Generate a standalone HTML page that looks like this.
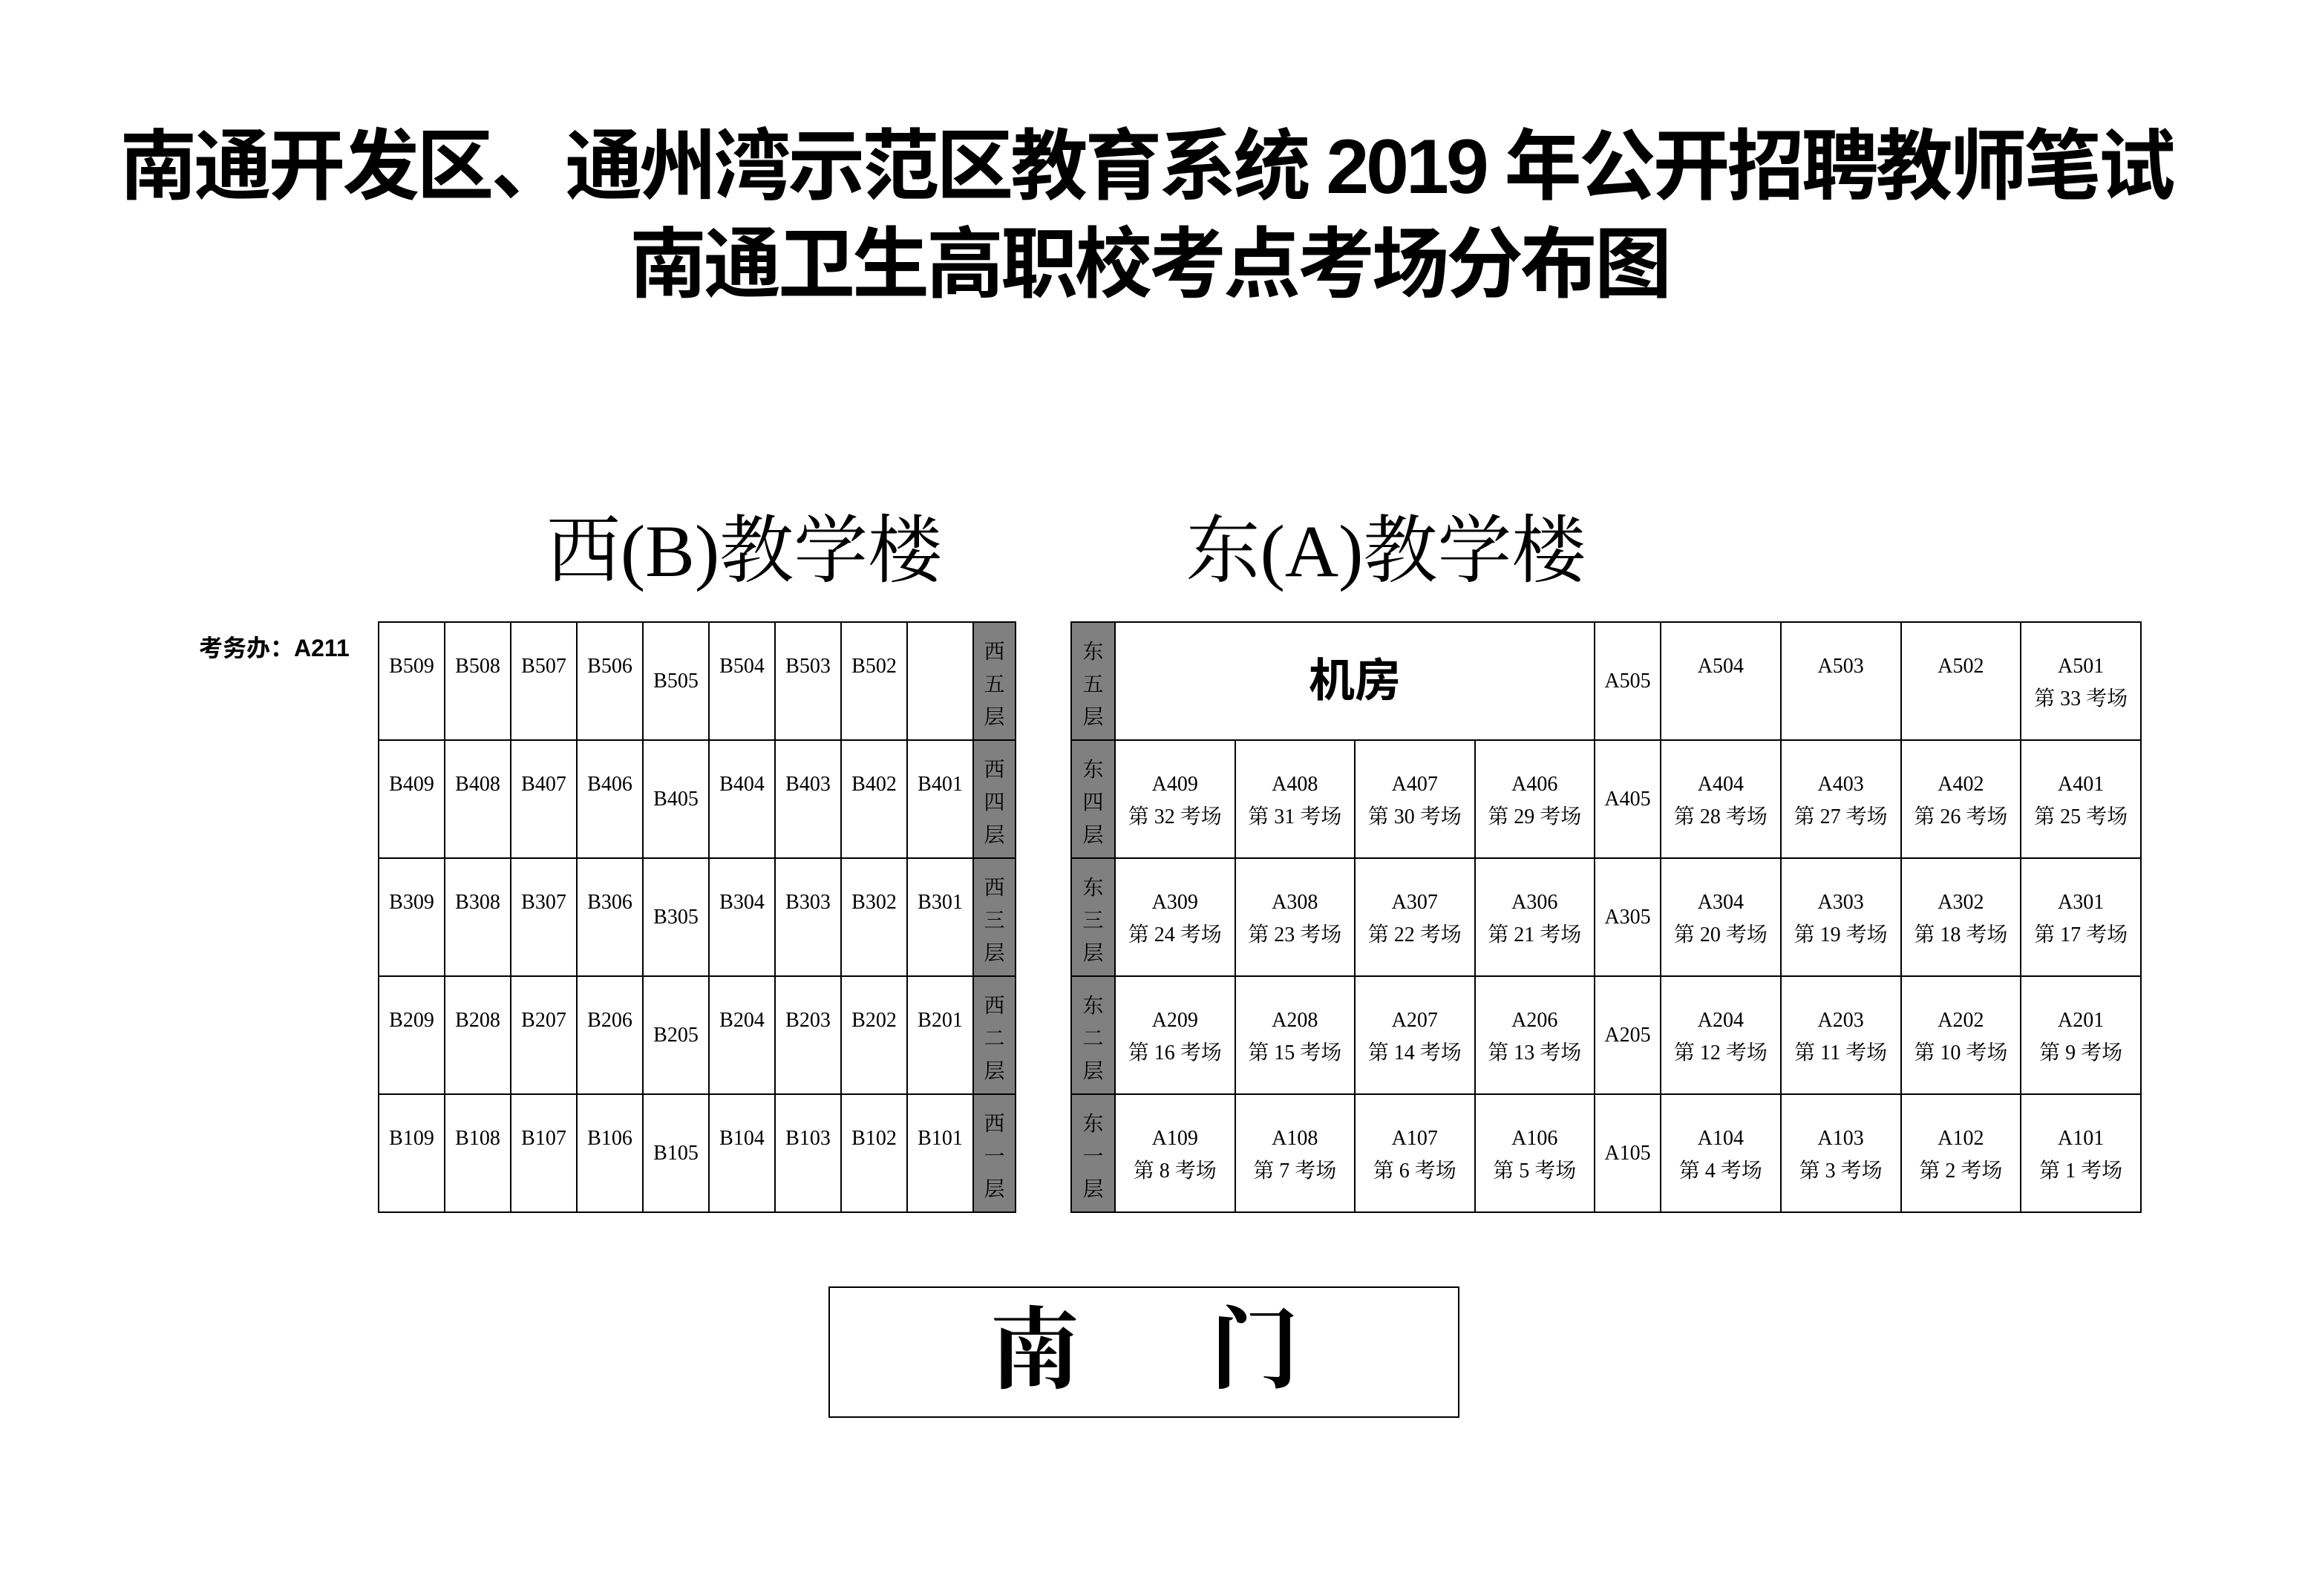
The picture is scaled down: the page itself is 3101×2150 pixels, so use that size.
<!DOCTYPE html>
<html><head><meta charset="utf-8">
<style>
html,body{margin:0;padding:0;background:#fff;}
body{width:3101px;height:2150px;position:relative;overflow:hidden;}
.abs{position:absolute;white-space:nowrap;}
.t{font-family:"Liberation Sans","Noto Sans CJK SC",sans-serif;font-weight:700;color:#000;text-align:center;line-height:106px;height:106px;font-size:104px;}
.h{font-family:"Liberation Serif","Noto Serif CJK SC",serif;font-size:100px;line-height:100px;height:100px;color:#000;text-align:center;}
table{position:absolute;border-collapse:collapse;table-layout:fixed;}
td{border:2px solid #000;height:157px;padding:0;text-align:center;vertical-align:top;font-family:"Liberation Serif","Noto Serif CJK SC",serif;font-size:28px;line-height:44px;color:#000;}
td .c{padding-top:37px;}
td.m{vertical-align:middle;}
td.g{background:#808080;line-height:44px;}
td.g .c{padding-top:18px;}
td.big{vertical-align:middle;font-family:"Liberation Sans","Noto Sans CJK SC",sans-serif;font-weight:700;font-size:62px;}
</style></head><body>
<div class="abs t" style="left:-24px;width:3136px;top:172px;letter-spacing:-4px;">南通开发区、通州湾示范区教育系统 2019 年公开招聘教师笔试</div>
<div class="abs t" style="left:-20px;width:3136px;top:304px;letter-spacing:-4px;">南通卫生高职校考点考场分布图</div>
<div class="abs h" style="left:734px;width:537px;top:693px;">西(B)教学楼</div>
<div class="abs h" style="left:1590px;width:554px;top:693px;">东(A)教学楼</div>
<div class="abs" style="left:268px;top:855px;font-family:'Liberation Sans','Noto Sans CJK SC',sans-serif;font-weight:700;font-size:32px;line-height:36px;">考务办：A211</div>

<table style="left:509px;top:837px;width:858px;">
<colgroup><col style="width:89px"><col style="width:89px"><col style="width:89px"><col style="width:89px"><col style="width:89px"><col style="width:89px"><col style="width:89px"><col style="width:89px"><col style="width:89px"><col style="width:57px"></colgroup>
<tr><td><div class="c">B509</div></td><td><div class="c">B508</div></td><td><div class="c">B507</div></td><td><div class="c">B506</div></td><td class="m">B505</td><td><div class="c">B504</div></td><td><div class="c">B503</div></td><td><div class="c">B502</div></td><td></td><td class="g"><div class="c">西<br>五<br>层</div></td></tr>
<tr><td><div class="c">B409</div></td><td><div class="c">B408</div></td><td><div class="c">B407</div></td><td><div class="c">B406</div></td><td class="m">B405</td><td><div class="c">B404</div></td><td><div class="c">B403</div></td><td><div class="c">B402</div></td><td><div class="c">B401</div></td><td class="g"><div class="c">西<br>四<br>层</div></td></tr>
<tr><td><div class="c">B309</div></td><td><div class="c">B308</div></td><td><div class="c">B307</div></td><td><div class="c">B306</div></td><td class="m">B305</td><td><div class="c">B304</div></td><td><div class="c">B303</div></td><td><div class="c">B302</div></td><td><div class="c">B301</div></td><td class="g"><div class="c">西<br>三<br>层</div></td></tr>
<tr><td><div class="c">B209</div></td><td><div class="c">B208</div></td><td><div class="c">B207</div></td><td><div class="c">B206</div></td><td class="m">B205</td><td><div class="c">B204</div></td><td><div class="c">B203</div></td><td><div class="c">B202</div></td><td><div class="c">B201</div></td><td class="g"><div class="c">西<br>二<br>层</div></td></tr>
<tr><td><div class="c">B109</div></td><td><div class="c">B108</div></td><td><div class="c">B107</div></td><td><div class="c">B106</div></td><td class="m">B105</td><td><div class="c">B104</div></td><td><div class="c">B103</div></td><td><div class="c">B102</div></td><td><div class="c">B101</div></td><td class="g"><div class="c">西<br>一<br>层</div></td></tr>
</table>

<table style="left:1442px;top:837px;width:1441px;">
<colgroup><col style="width:59px"><col style="width:161.5px"><col style="width:161.5px"><col style="width:161.5px"><col style="width:161.5px"><col style="width:89px"><col style="width:161.75px"><col style="width:161.75px"><col style="width:161.75px"><col style="width:161.75px"></colgroup>
<tr><td class="g"><div class="c">东<br>五<br>层</div></td><td colspan="4" class="big">机房</td><td class="m">A505</td><td><div class="c">A504</div></td><td><div class="c">A503</div></td><td><div class="c">A502</div></td><td><div class="c">A501<br>第 33 考场</div></td></tr>
<tr><td class="g"><div class="c">东<br>四<br>层</div></td><td><div class="c">A409<br>第 32 考场</div></td><td><div class="c">A408<br>第 31 考场</div></td><td><div class="c">A407<br>第 30 考场</div></td><td><div class="c">A406<br>第 29 考场</div></td><td class="m">A405</td><td><div class="c">A404<br>第 28 考场</div></td><td><div class="c">A403<br>第 27 考场</div></td><td><div class="c">A402<br>第 26 考场</div></td><td><div class="c">A401<br>第 25 考场</div></td></tr>
<tr><td class="g"><div class="c">东<br>三<br>层</div></td><td><div class="c">A309<br>第 24 考场</div></td><td><div class="c">A308<br>第 23 考场</div></td><td><div class="c">A307<br>第 22 考场</div></td><td><div class="c">A306<br>第 21 考场</div></td><td class="m">A305</td><td><div class="c">A304<br>第 20 考场</div></td><td><div class="c">A303<br>第 19 考场</div></td><td><div class="c">A302<br>第 18 考场</div></td><td><div class="c">A301<br>第 17 考场</div></td></tr>
<tr><td class="g"><div class="c">东<br>二<br>层</div></td><td><div class="c">A209<br>第 16 考场</div></td><td><div class="c">A208<br>第 15 考场</div></td><td><div class="c">A207<br>第 14 考场</div></td><td><div class="c">A206<br>第 13 考场</div></td><td class="m">A205</td><td><div class="c">A204<br>第 12 考场</div></td><td><div class="c">A203<br>第 11 考场</div></td><td><div class="c">A202<br>第 10 考场</div></td><td><div class="c">A201<br>第 9 考场</div></td></tr>
<tr><td class="g"><div class="c">东<br>一<br>层</div></td><td><div class="c">A109<br>第 8 考场</div></td><td><div class="c">A108<br>第 7 考场</div></td><td><div class="c">A107<br>第 6 考场</div></td><td><div class="c">A106<br>第 5 考场</div></td><td class="m">A105</td><td><div class="c">A104<br>第 4 考场</div></td><td><div class="c">A103<br>第 3 考场</div></td><td><div class="c">A102<br>第 2 考场</div></td><td><div class="c">A101<br>第 1 考场</div></td></tr>
</table>

<div class="abs" style="left:1116px;top:1733px;width:846px;height:173px;border:2px solid #000;"></div>
<div class="abs" style="left:1334px;top:1760px;font-family:'Liberation Serif','Noto Serif CJK SC',serif;font-weight:700;font-size:120px;line-height:120px;">南</div>
<div class="abs" style="left:1630px;top:1760px;font-family:'Liberation Serif','Noto Serif CJK SC',serif;font-weight:700;font-size:120px;line-height:120px;">门</div>
</body></html>
